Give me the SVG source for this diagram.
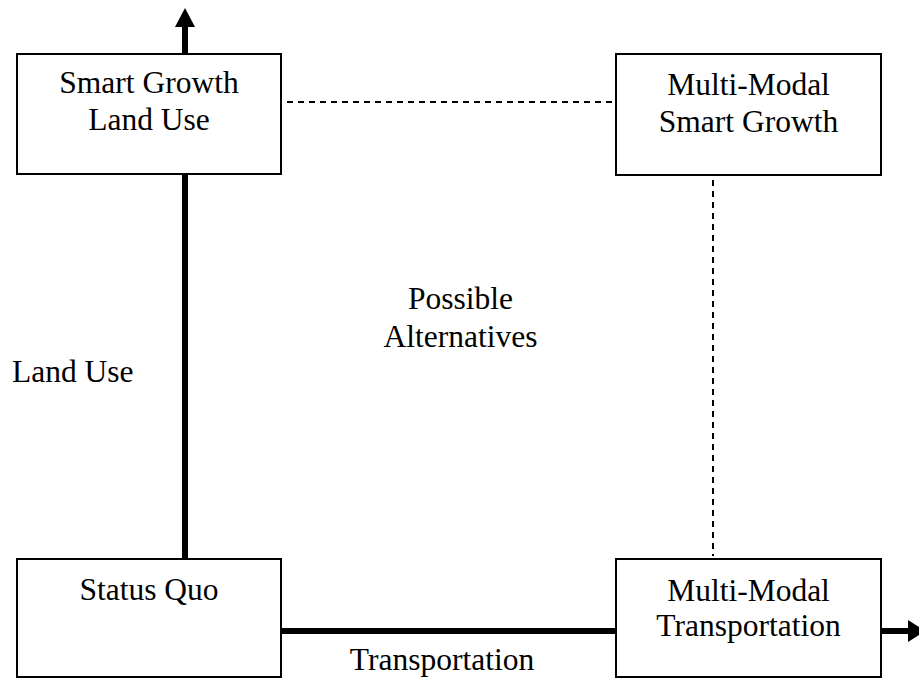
<svg xmlns="http://www.w3.org/2000/svg" width="919" height="679" viewBox="0 0 919 679">
<style>
.box{fill:#fff;stroke:#000;stroke-width:2}
.t{font-family:"Liberation Serif","Times New Roman",serif;font-size:31.5px;fill:#000;text-anchor:middle}
.tl{font-family:"Liberation Serif","Times New Roman",serif;font-size:31.5px;fill:#000}
.thick{stroke:#000;stroke-width:6;fill:none}
.dash{stroke:#000;stroke-width:2;stroke-dasharray:6 5;fill:none}
</style>
<rect width="919" height="679" fill="#fff"/>
<g id="connectors">
<line class="thick" x1="185" y1="559" x2="185" y2="174"/>
<line class="thick" x1="185" y1="54" x2="185" y2="26"/>
<polygon points="175,27 195,27 185,8" fill="#000"/>
<line class="thick" x1="281" y1="631" x2="616" y2="631"/>
<line class="thick" x1="881" y1="631" x2="910" y2="631"/>
<polygon points="908,620 908,642 925,631" fill="#000"/>
<line class="dash" x1="287" y1="102" x2="616" y2="102"/>
<line class="dash" x1="713" y1="180" x2="713" y2="556"/>
</g>
<g id="smart-growth-land-use">
<rect class="box" x="17" y="54" width="264" height="120"/>
<text class="t" x="149" y="93">Smart Growth</text>
<text class="t" x="149" y="130">Land Use</text>
</g>
<g id="multi-modal-smart-growth">
<rect class="box" x="616" y="54" width="265" height="121"/>
<text class="t" x="748.5" y="95">Multi-Modal</text>
<text class="t" x="748.5" y="132">Smart Growth</text>
</g>
<g id="status-quo">
<rect class="box" x="17" y="559" width="264" height="118"/>
<text class="t" x="149" y="600">Status Quo</text>
</g>
<g id="multi-modal-transportation">
<rect class="box" x="616" y="559" width="265" height="118"/>
<text class="t" x="748.5" y="601">Multi-Modal</text>
<text class="t" x="748.5" y="636">Transportation</text>
</g>
<g id="labels">
<text class="t" x="460.5" y="309">Possible</text>
<text class="t" x="460.5" y="347">Alternatives</text>
<text class="tl" x="12" y="382">Land Use</text>
<text class="t" x="442" y="670">Transportation</text>
</g>
</svg>
